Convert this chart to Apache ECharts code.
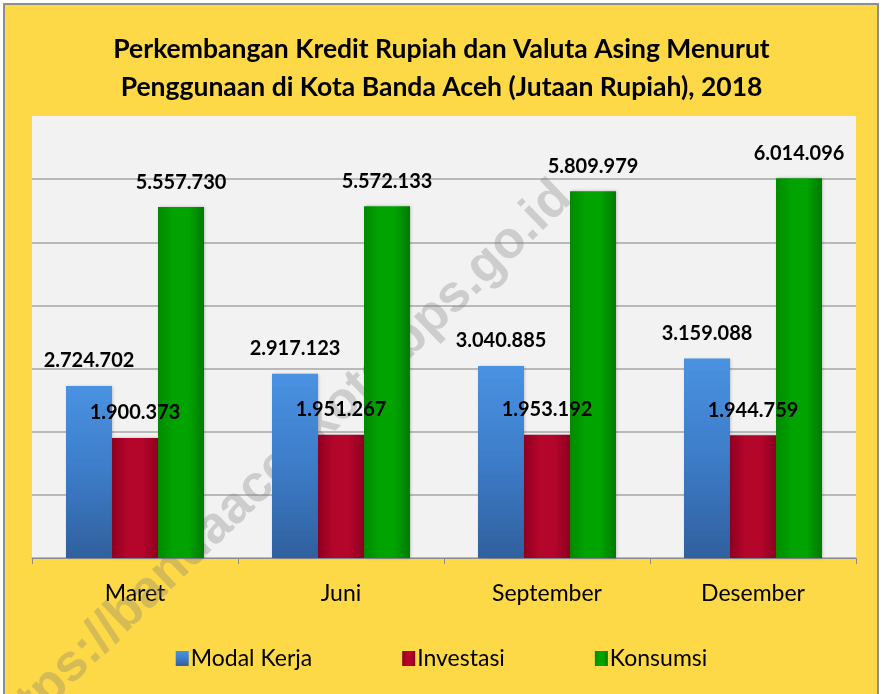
<!DOCTYPE html>
<html>
<head>
<meta charset="utf-8">
<script src="https://cdn.jsdelivr.net/npm/echarts@6/dist/echarts.min.js"></script>
<style>
    html, body { margin: 0; padding: 0; background: #fff; }
    #frame {
        position: absolute; left: 3px; top: 3px; width: 872px; height: 700px;
        border: 2px solid #8e8e8e; background: #FDD847;
    }
    #chart { position: absolute; left: 0; top: 0; width: 883px; height: 694px; }
</style>
</head>
<body>
<div id="frame"></div>
<div id="chart"></div>
<script>
// data
var periods = ['Maret', 'Juni', 'September', 'Desember'];
var modalKerja = [2724702, 2917123, 3040885, 3159088];
var investasi = [1900373, 1951267, 1953192, 1944759];
var konsumsi = [5557730, 5572133, 5809979, 6014096];
var seriesNames = ['Modal Kerja', 'Investasi', 'Konsumsi'];

var FONT = 'Lato, "Open Sans", sans-serif';

// 5557730 -> 5.557.730
function fmt(v) {
    return String(v).replace(/\B(?=(\d{3})+(?!\d))/g, '.');
}

function grad(colors, horizontal) {
    var stops = colors.map(function (c, i) {
        return { offset: i / (colors.length - 1), color: c };
    });
    return new echarts.graphic.LinearGradient(0, 0, horizontal ? 1 : 0, horizontal ? 0 : 1, stops);
}

var barColors = [
    grad(['#4A92E2', '#3D7CC8', '#30609E'], false),
    grad(['#8E0020', '#B4052B', '#B4052B', '#8E0020'], true),
    grad(['#008A00', '#00A300', '#00A300', '#007A00'], true)
];
var legendColors = ['#3A76C0', '#B00028', '#00A000'];
var seriesData = [modalKerja, investasi, konsumsi];

var chart = echarts.init(document.getElementById('chart'), null, { renderer: 'canvas' });

var series = seriesNames.map(function (name, i) {
    return {
        name: name,
        type: 'bar',
        data: seriesData[i],
        barGap: '0%',
        barCategoryGap: '33%',
        itemStyle: {
            color: barColors[i],
            shadowColor: 'rgba(0,0,0,0.25)',
            shadowBlur: 3,
            shadowOffsetX: 1
        },
        label: {
            show: true,
            position: 'top',
            distance: 15,
            formatter: function (p) { return fmt(p.value); },
            color: '#000',
            fontFamily: FONT,
            fontWeight: 'bold',
            fontSize: 20
        }
    };
});

var option = {
    animation: false,
    backgroundColor: 'transparent',
    color: legendColors,
    title: {
        text: 'Perkembangan Kredit Rupiah dan Valuta Asing Menurut\nPenggunaan di Kota Banda Aceh (Jutaan Rupiah), 2018',
        left: 'center',
        top: 25,
        textStyle: {
            fontFamily: FONT,
            fontWeight: 'bold',
            fontSize: 26.5,
            lineHeight: 38,
            color: '#000'
        }
    },
    legend: {
        top: 642,
        left: 'center',
        itemGap: 90,
        itemWidth: 13,
        itemHeight: 15,
        icon: 'rect',
        textStyle: { fontFamily: FONT, fontSize: 23, color: '#000', padding: [0, 0, 0, -3] },
        data: seriesNames
    },
    grid: {
        left: 32,
        right: 27,
        top: 116,
        bottom: 136,
        show: true,
        backgroundColor: '#F2F2F2',
        borderWidth: 0
    },
    xAxis: {
        type: 'category',
        data: periods,
        axisLine: { lineStyle: { color: '#8C8C8C', width: 1 } },
        axisTick: { show: true, length: 6, lineStyle: { color: '#8C8C8C' } },
        axisLabel: { margin: 24, color: '#000', fontFamily: FONT, fontSize: 23 }
    },
    yAxis: {
        type: 'value',
        min: 0,
        max: 7000000,
        interval: 1000000,
        axisLabel: { show: false },
        axisLine: { show: false },
        axisTick: { show: false },
        splitLine: {
            lineStyle: {
                color: ['#A6A6A6', '#A6A6A6', '#A6A6A6', '#A6A6A6', '#A6A6A6', '#A6A6A6', '#A6A6A6', 'rgba(0,0,0,0)'],
                width: 1.5
            }
        }
    },
    graphic: [{
        // watermark
        type: 'text',
        z: 1,
        x: 277,
        y: 467,
        rotation: 44 * Math.PI / 180,
        silent: true,
        style: {
            text: 'https://bandaacehkota.bps.go.id',
            font: 'bold 52px "Liberation Sans", Arial, sans-serif',
            fill: 'rgba(120,120,120,0.3)',
            align: 'center',
            verticalAlign: 'middle'
        }
    }],
    series: series
};

chart.setOption(option);
</script>
</body>
</html>
